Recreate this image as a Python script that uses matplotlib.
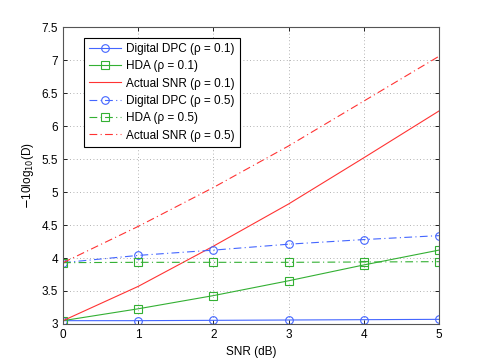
import matplotlib
matplotlib.use("Agg")
import matplotlib.pyplot as plt

# values
snr_db = [0, 1, 2, 3, 4, 5]
dpc_01 = [3.05, 3.05, 3.055, 3.06, 3.065, 3.07]
hda_01 = [3.05, 3.23, 3.43, 3.655, 3.895, 4.12]
actual_01 = [3.05, 3.57, 4.18, 4.82, 5.52, 6.23]
dpc_05 = [3.93, 4.04, 4.12, 4.21, 4.28, 4.34]
hda_05 = [3.93, 3.935, 3.935, 3.935, 3.94, 3.945]
actual_05 = [3.93, 4.48, 5.07, 5.70, 6.38, 7.06]

yticks = [3, 3.5, 4, 4.5, 5, 5.5, 6, 6.5, 7, 7.5]
ytick_labels = ["3", "3.5", "4", "4.5", "5", "5.5", "6", "6.5", "7", "7.5"]

plt.rcParams["font.family"] = ["Liberation Sans", "DejaVu Sans"]
plt.rcParams["font.size"] = 8.5

blue, green, red = "#4466ff", "#33b033", "#ff3333"
dashdot = (0, (7, 3, 1, 3))

fig = plt.figure(figsize=(4.85, 3.64), dpi=100)
ax = fig.add_axes([0.13, 0.11, 0.775, 0.815])

mk = dict(markersize=5.5, markerfacecolor="none", markeredgewidth=0.8)
ax.plot(snr_db, dpc_01, "-o", color=blue, lw=0.8, label="Digital DPC (ρ = 0.1)", **mk)
ax.plot(snr_db, hda_01, "-s", color=green, lw=0.8, label="HDA (ρ = 0.1)", **mk)
ax.plot(snr_db, actual_01, "-", color=red, lw=0.8, label="Actual SNR (ρ = 0.1)")
ax.plot(snr_db, dpc_05, marker="o", ls=dashdot, color=blue, lw=0.8, label="Digital DPC (ρ = 0.5)", **mk)
ax.plot(snr_db, hda_05, marker="s", ls=dashdot, color=green, lw=0.8, label="HDA (ρ = 0.5)", **mk)
ax.plot(snr_db, actual_05, ls=dashdot, color=red, lw=0.8, label="Actual SNR (ρ = 0.5)")

ax.set_xlim(0, 5)
ax.set_ylim(3, 7.5)
ax.set_xticks(snr_db)
ax.set_yticks(yticks)
ax.set_yticklabels(ytick_labels)
ax.tick_params(direction="in", top=True, right=True, length=3, width=0.6)
ax.grid(True, linestyle=(0, (1, 3)), color="#999999", linewidth=0.6)
for s in ax.spines.values():
    s.set_color("#555555")
    s.set_linewidth(0.8)

ax.set_xlabel("SNR (dB)")
ax.set_ylabel("$-$10log$_{10}$(D)")

leg = ax.legend(loc="upper left", bbox_to_anchor=(0.04, 0.985), fancybox=False,
                edgecolor="black", framealpha=1, handlelength=2.7,
                handletextpad=0.4, borderpad=0.45, labelspacing=0.45)
leg.get_frame().set_linewidth(0.8)

fig.savefig("out.png", dpi=100)
